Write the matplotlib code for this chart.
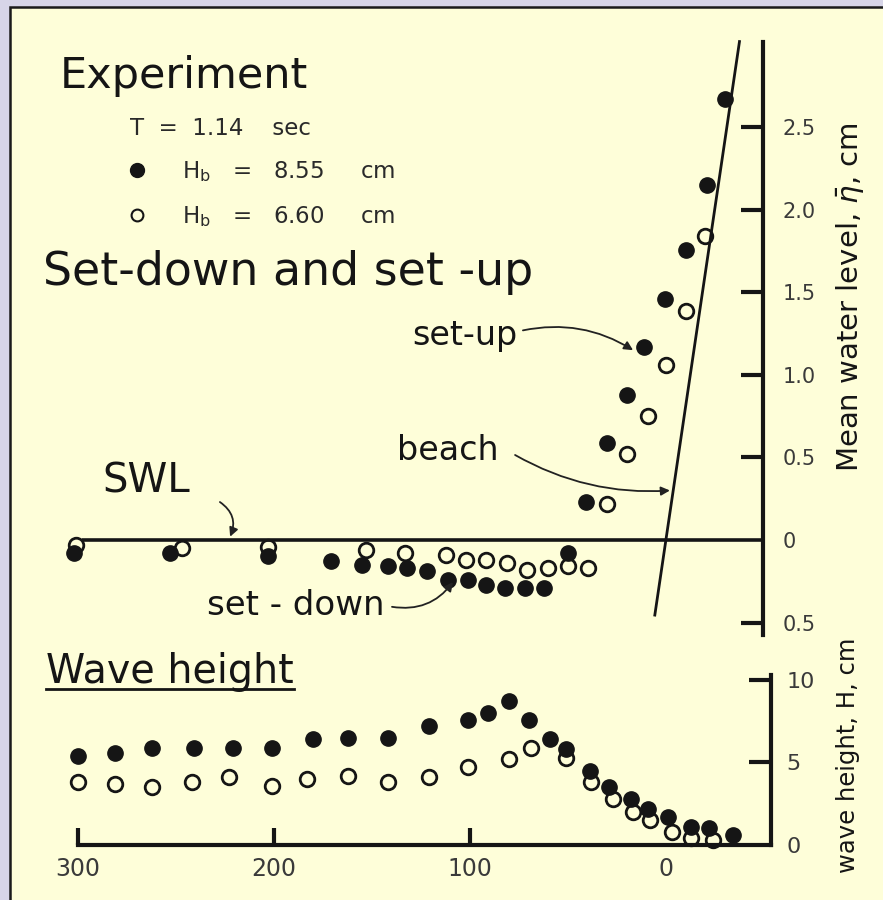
import matplotlib
matplotlib.use("Agg")
import matplotlib.pyplot as plt
from matplotlib.lines import Line2D
from matplotlib.patches import Rectangle

W, H = 883, 900

# mean water level (cm) vs distance from still-water shoreline (cm)
setup_fill_x = [302, 253, 203, 171, 155, 142, 132, 122, 111, 101, 92, 82, 72, 62,
                50, 41, 30, 20, 11, 0.5, -10, -21, -30]
setup_fill_y = [-0.08, -0.08, -0.10, -0.13, -0.15, -0.16, -0.17, -0.19, -0.24, -0.24,
                -0.27, -0.29, -0.29, -0.29, -0.08, 0.23, 0.59, 0.88, 1.17, 1.46,
                1.76, 2.15, 2.67]
setup_open_x = [301, 247, 203, 153, 133, 112, 102, 92, 81, 71, 60, 50, 40,
                30, 20, 9, 0, -10, -20]
setup_open_y = [-0.03, -0.05, -0.04, -0.06, -0.08, -0.09, -0.12, -0.12, -0.14, -0.18,
                -0.17, -0.16, -0.17, 0.22, 0.52, 0.75, 1.06, 1.39, 1.84]

# wave height (cm)
height_fill_x = [300, 281, 262, 241, 221, 201, 180, 162, 142, 121, 101, 91, 80, 70,
                 59, 51, 39, 29, 18, 9, -1, -13, -22, -34]
height_fill_y = [5.4, 5.6, 5.9, 5.9, 5.9, 5.9, 6.4, 6.5, 6.5, 7.2, 7.6, 8.0, 8.7, 7.6,
                 6.4, 5.8, 4.5, 3.5, 2.8, 2.2, 1.7, 1.1, 1.0, 0.6]
height_open_x = [300, 281, 262, 242, 223, 201, 183, 162, 142, 121, 101, 80, 69, 51,
                 38, 27, 17, 8, -3, -13, -24]
height_open_y = [3.8, 3.7, 3.5, 3.8, 4.1, 3.6, 4.0, 4.2, 3.8, 4.1, 4.7, 5.2, 5.9, 5.3,
                 3.8, 2.8, 2.0, 1.5, 0.8, 0.4, 0.3]

# still water level and beach profile
swl_x = [298, -49.5]
swl_y = [0, 0]
beach_x = [5.7, -37.5]
beach_y = [-0.455, 3.02]

top_ticks = [2.5, 2.0, 1.5, 1.0, 0.5, 0, -0.5]
top_labels = ["2.5", "2.0", "1.5", "1.0", "0.5", "0", "0.5"]
bot_yticks = [0, 5, 10]
bot_xticks = [300, 200, 100, 0]

legend_title = "T  =  1.14    sec"
legend_labels = [r"$\mathrm{H_b}$   =   8.55     cm", r"$\mathrm{H_b}$   =   6.60     cm"]

ink = "#151515"
cream = "#fefed9"


def box(left, top, right, bottom):
    return [left / W, 1 - bottom / H, (right - left) / W, (bottom - top) / H]


plt.rcParams["font.family"] = "DejaVu Sans"
plt.rcParams["mathtext.fontset"] = "dejavusans"

fig = plt.figure(figsize=(W / 100, H / 100), dpi=100)
fig.patch.set_facecolor("#d7d5e8")
fig.add_artist(Rectangle((9.5 / W, -0.02), 1.1, 1.02 - 6.5 / H, transform=fig.transFigure,
                         facecolor=cream, edgecolor="#1a1a1a", linewidth=1.8, zorder=-10))

# ---- upper panel: mean water level
ax = fig.add_axes(box(40, 30, 763, 640))
ax.patch.set_visible(False)
ax.set_xlim(319.4, -49.5)
ax.set_ylim(-0.606, 3.09)
for s in ["top", "left", "bottom"]:
    ax.spines[s].set_visible(False)
ax.spines["right"].set_linewidth(3)
ax.spines["right"].set_color(ink)
ax.spines["right"].set_bounds(-0.576, 3.02)
ax.yaxis.tick_right()
ax.set_yticks(top_ticks)
ax.set_yticklabels(top_labels)
ax.tick_params(axis="y", direction="in", length=16, width=3, pad=14, labelsize=15,
               labelcolor="#3a3a3a", color=ink)
ax.yaxis.get_major_ticks()[5].tick2line.set_visible(False)
ax.set_xticks([])

ax.plot(swl_x, swl_y, color=ink, lw=2.6, solid_capstyle="butt")
ax.plot(beach_x, beach_y, color=ink, lw=2.0)
ax.plot(setup_open_x, setup_open_y, "o", ms=10.5, mfc="none", mec=ink, mew=2,
        clip_on=False)
ax.plot(setup_fill_x, setup_fill_y, "o", ms=11, color=ink, clip_on=False)

arrow = dict(arrowstyle="-|>", color="#222222", lw=1.3, mutation_scale=13,
             shrinkA=0, shrinkB=0)
ax.text(129.6, 1.18, "set-up", fontsize=24, color=ink, ha="left", va="baseline")
ax.annotate("", xy=(16.8, 1.15), xytext=(73, 1.27),
            arrowprops=dict(arrow, connectionstyle="arc3,rad=-0.2"))
ax.text(137.2, 0.485, "beach", fontsize=24, color=ink, ha="left", va="baseline")
ax.annotate("", xy=(-2, 0.30), xytext=(77, 0.515),
            arrowprops=dict(arrow, connectionstyle="arc3,rad=0.15"))
ax.text(287.8, 0.29, "SWL", fontsize=29, color=ink, ha="left", va="baseline")
ax.annotate("", xy=(222.4, 0.02), xytext=(227.6, 0.23),
            arrowprops=dict(arrow, connectionstyle="arc3,rad=-0.4"))
ax.text(234, -0.455, "set - down", fontsize=24.5, color=ink, ha="left", va="baseline")
ax.annotate("", xy=(108.7, -0.255), xytext=(139.8, -0.405),
            arrowprops=dict(arrow, connectionstyle="arc3,rad=0.3"))

# ---- lower panel: wave height
bx = fig.add_axes(box(40, 672, 771, 845))
bx.patch.set_visible(False)
bx.set_xlim(319.4, -53.6)
bx.set_ylim(0, 10.48)
for s in ["top", "left"]:
    bx.spines[s].set_visible(False)
for s in ["right", "bottom"]:
    bx.spines[s].set_linewidth(3)
    bx.spines[s].set_color(ink)
bx.spines["right"].set_bounds(0, 10.3)
bx.spines["bottom"].set_bounds(-53.6, 300)
bx.yaxis.tick_right()
bx.set_yticks(bot_yticks)
bx.set_xticks(bot_xticks)
bx.tick_params(axis="y", direction="in", length=16, width=3, pad=11, labelsize=16,
               labelcolor="#3a3a3a", color=ink)
bx.tick_params(axis="x", direction="in", length=12, width=3, pad=9, labelsize=17,
               labelcolor="#3a3a3a", color=ink)
bx.yaxis.get_major_ticks()[0].tick2line.set_visible(False)
bx.xaxis.get_major_ticks()[-1].tick1line.set_visible(False)

bx.plot(height_open_x, height_open_y, "o", ms=10.5, mfc="none", mec=ink, mew=2,
        clip_on=False)
bx.plot(height_fill_x, height_fill_y, "o", ms=11, color=ink, clip_on=False)

# ---- titles and labels
fig.text(60 / W, 1 - 88 / H, "Experiment", fontsize=31, color=ink, va="baseline")
fig.text(43 / W, 1 - 285 / H, "Set-down and set -up", fontsize=33, color=ink,
         va="baseline")
wh = fig.text(46 / W, 1 - 683 / H, "Wave height", fontsize=28.5, color=ink,
              va="baseline")
fig.text(850 / W, 1 - 297 / H, r"Mean water level, $\bar{\eta}$, cm", fontsize=21,
         rotation=90, ha="center", va="center", color=ink)
fig.text(848 / W, 1 - 755 / H, "wave height, H, cm", fontsize=17.5, rotation=90,
         ha="center", va="center", color=ink)

handles = [Line2D([], [], ls="none", marker="o", ms=10, color=ink),
           Line2D([], [], ls="none", marker="o", ms=8.5, mfc="none", mec=ink, mew=1.5)]
leg = fig.legend(handles, legend_labels, title=legend_title, loc="upper left",
                 bbox_to_anchor=(130 / W, 1 - 117 / H), frameon=False, fontsize=16.5,
                 title_fontsize=16.5, handlelength=0.65, handletextpad=1.6,
                 labelspacing=0.85, borderpad=0, borderaxespad=0, alignment="left")
for t in leg.get_texts():
    t.set_color("#2a2a2a")
leg.get_title().set_color("#2a2a2a")

# underline for "Wave height"
fig.canvas.draw()
bb = wh.get_window_extent().transformed(fig.transFigure.inverted())
fig.add_artist(Line2D([bb.x0, bb.x1], [1 - 689 / H] * 2, transform=fig.transFigure,
                      color=ink, lw=2))

fig.savefig("out.png", dpi=100, facecolor=fig.get_facecolor())
